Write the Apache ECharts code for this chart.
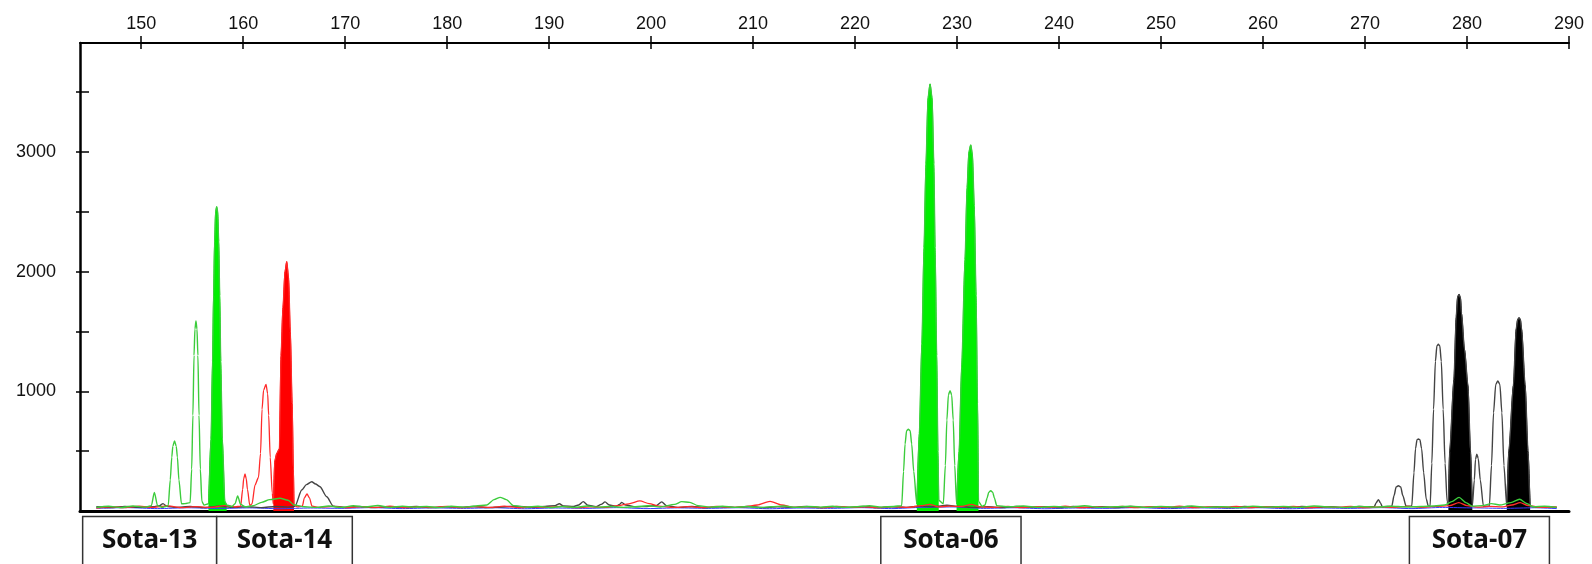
<!DOCTYPE html>
<html>
<head>
<meta charset="utf-8">
<script src="https://cdn.jsdelivr.net/npm/echarts@6/dist/echarts.min.js"></script>
<style>
    html, body { margin: 0; padding: 0; background: #fff; }
    #main { width: 1592px; height: 564px; }
</style>
</head>
<body>
<div id="main"></div>
<script>
// size axis (bp) and signal axis (RFU)
var xTicks = [150, 160, 170, 180, 190, 200, 210, 220, 230, 240, 250, 260, 270, 280, 290];
var yLabels = [1000, 2000, 3000];
var yTicks = [500, 1000, 1500, 2000, 2500, 3000, 3500];

// loci boxes under the trace
var lociNames = ['Sota-13', 'Sota-14', 'Sota-06', 'Sota-07'];
var lociStart = [144.26, 157.40, 222.52, 274.35];
var lociEnd = [157.40, 170.70, 236.27, 288.08];

// traces, [bp, rfu]
var greenTrace = [
    [145.6, 30], [146.8, 40], [148, 28], [149.2, 42], [150.4, 32], [151.0, 45], [151.29, 156], [151.6, 45], [152.1, 30], [152.4, 38],
    [152.65, 45], [152.85, 260], [153.0, 450], [153.1, 540], [153.27, 585], [153.44, 540], [153.55, 450], [153.7, 260], [153.95, 60], [154.3, 62],
    [154.8, 70], [154.95, 350], [155.07, 800], [155.18, 1300], [155.27, 1520], [155.37, 1587], [155.47, 1520], [155.56, 1300], [155.67, 800], [155.8, 350], [155.95, 80], [156.16, 50],
    [156.6, 60], [156.85, 600], [157.0, 1250], [157.1, 1800], [157.2, 2250], [157.3, 2500], [157.4, 2542], [157.5, 2500], [157.6, 2250], [157.7, 1800], [157.8, 1250], [157.95, 600], [158.2, 80], [158.38, 50],
    [158.9, 38], [159.2, 60], [159.46, 125], [159.75, 55], [160.2, 35], [161, 45], [161.8, 72], [162.6, 95], [163.6, 106], [164.4, 90], [165, 50],
    [166, 35], [167.2, 30], [168.4, 42], [169.6, 30], [170.8, 44], [172, 33], [173.2, 46], [174.4, 30], [175.6, 40], [176.8, 32], [178, 38],
    [179.2, 28], [180.4, 40], [181.6, 32], [182.8, 42], [183.9, 50], [184.6, 95], [185.2, 114], [185.8, 95], [186.5, 45], [187.7, 32],
    [188.9, 40], [190.1, 28], [191.3, 38], [192.5, 30], [193.7, 42], [194.9, 32], [196.1, 38], [197.3, 30], [198.5, 36], [199.7, 44],
    [200.9, 34], [202.3, 55], [203, 78], [203.8, 72], [204.6, 45], [205.8, 32], [207, 40], [208.2, 30], [209.4, 38], [210.6, 28],
    [211.8, 36], [213, 42], [214.2, 30], [215.4, 38], [216.6, 32], [217.8, 40], [219, 30], [220.2, 36], [221.4, 44], [222.6, 32], [223.8, 38],
    [224.57, 45], [224.75, 330], [224.9, 560], [225.05, 670], [225.22, 683], [225.4, 670], [225.55, 560], [225.75, 330], [226.05, 60],
    [226.3, 650], [226.55, 1400], [226.76, 2200], [226.95, 2900], [227.15, 3450], [227.35, 3567], [227.55, 3450], [227.72, 2900], [227.84, 2200], [228.0, 1300], [228.12, 500], [228.2, 90],
    [228.65, 60], [228.85, 380], [229.0, 760], [229.15, 970], [229.31, 1005], [229.47, 970], [229.62, 760], [229.77, 380], [229.95, 60],
    [230.2, 500], [230.45, 1200], [230.78, 2100], [230.98, 2700], [231.16, 3000], [231.34, 3058], [231.5, 2980], [231.68, 2550], [231.86, 1800], [232.0, 900], [232.1, 80],
    [232.45, 40], [232.74, 50], [232.95, 110], [233.1, 155], [233.3, 170], [233.5, 155], [233.65, 110], [233.89, 45], [235, 35], [236.5, 42], [238, 30], [239.5, 38],
    [241, 32], [242.5, 44], [244, 30], [245.5, 36], [247, 40], [248.5, 30], [250, 38], [251.5, 32], [253, 42], [254.5, 30], [256, 36],
    [257.5, 28], [259, 40], [260.5, 32], [262, 38], [263.5, 30], [265, 42], [266.5, 34], [268, 30], [269.5, 38], [271, 32], [272.5, 40],
    [274, 34], [275.5, 38], [276.8, 42], [277.8, 50], [278.5, 78], [279.22, 114], [279.9, 70], [280.5, 40], [281.5, 45], [282.4, 62],
    [283.2, 50], [284.3, 70], [285.15, 98], [285.9, 60], [286.5, 35], [287.6, 40], [288.8, 30]
];

var redTrace = [
    [145.6, 25], [147, 35], [148.4, 28], [149.8, 40], [151.2, 30], [152.6, 42], [154, 28], [155.4, 36], [156.8, 30], [158.2, 45], [159.2, 35],
    [159.75, 40], [159.95, 180], [160.05, 270], [160.18, 309], [160.3, 270], [160.42, 180], [160.65, 45],
    [160.87, 60], [161.16, 217], [161.5, 280], [161.7, 480], [161.85, 850], [162.0, 1010], [162.24, 1058], [162.4, 980], [162.5, 800], [162.65, 450], [162.85, 150],
    [162.96, 60], [163.1, 420], [163.3, 483], [163.55, 520], [163.71, 1300], [163.9, 1700], [164.1, 2000], [164.27, 2083], [164.45, 1950], [164.62, 1500], [164.8, 900], [164.92, 350], [164.98, 50],
    [165.3, 35], [165.8, 40], [166.0, 110], [166.26, 142], [166.5, 110], [166.75, 40], [167.5, 30], [168.8, 38], [170.2, 28], [171.6, 36],
    [173, 30], [174.4, 40], [175.8, 28], [177.2, 35], [178.6, 30], [180, 38], [181.4, 28], [182.8, 36], [184.2, 30], [185.6, 40], [187, 28],
    [188.4, 35], [189.8, 30], [191.2, 38], [192.6, 28], [194, 34], [195.4, 30], [196.8, 45], [197.8, 60], [198.9, 84], [199.8, 62],
    [200.8, 40], [202.2, 30], [203.6, 36], [205, 28], [206.4, 38], [207.8, 30], [209.2, 36], [210.4, 50], [211.66, 80], [212.8, 50],
    [214, 30], [215.4, 36], [216.8, 28], [218.2, 38], [219.6, 30], [221, 35], [222.4, 28], [223.8, 36], [225.2, 30], [226.5, 45],
    [227.3, 55], [228.2, 35], [229.2, 40], [230.5, 38], [231.4, 55], [232.2, 35], [233.6, 30], [235, 38], [236.4, 28], [237.8, 36],
    [239.2, 30], [240.6, 40], [242, 28], [243.4, 35], [244.8, 30], [246.2, 38], [247.6, 28], [249, 36], [250.4, 30], [251.8, 40],
    [253.2, 28], [254.6, 35], [256, 30], [257.4, 38], [258.8, 28], [260.2, 36], [261.6, 30], [263, 38], [264.4, 28], [265.8, 35],
    [267.2, 30], [268.6, 38], [270, 28], [271.4, 35], [272.8, 30], [274.2, 38], [275.6, 30], [277, 38], [278.3, 45], [279.2, 70],
    [280, 45], [281, 32], [282.2, 38], [283.5, 35], [284.4, 50], [285.2, 70], [286, 45], [287.2, 30], [288.8, 35]
];

var blackTrace = [
    [145.6, 35], [147, 28], [148.4, 38], [149.8, 30], [151.2, 36], [151.8, 45], [152.14, 62], [152.5, 40], [153.4, 30], [154.8, 38],
    [156.2, 28], [157.6, 40], [159, 30], [160.4, 36], [161.8, 28], [163.2, 38], [164.4, 32],
    [165.08, 40], [165.74, 175], [166.2, 220], [166.72, 245], [167.1, 225], [167.53, 203], [168.19, 119], [168.84, 40],
    [170, 30], [171.4, 38], [172.8, 28], [174.2, 36], [175.6, 30], [177, 38], [178.4, 28], [179.8, 35], [181.2, 30], [182.6, 38],
    [184, 28], [185.4, 34], [186.8, 40], [188.2, 30], [189.6, 38], [190.6, 45], [191, 60], [191.4, 42], [192.4, 38], [192.9, 50],
    [193.35, 78], [193.8, 48], [194.6, 36], [195.1, 55], [195.48, 76], [195.9, 50], [196.6, 40], [196.9, 55], [197.12, 72], [197.5, 50],
    [198.5, 35], [199.6, 38], [200.5, 45], [201.04, 76], [201.5, 45], [202.6, 30], [204, 38], [205.4, 28], [206.8, 36], [208.2, 30],
    [209.6, 38], [211, 28], [212.4, 35], [213.8, 30], [215.2, 38], [216.6, 28], [218, 36], [219.4, 30], [220.8, 38], [222.2, 28],
    [223.6, 36], [225, 30], [226.4, 40], [227.8, 35], [229, 48], [230.2, 38], [231.6, 30], [233, 36], [234.4, 28], [235.8, 38],
    [237.2, 30], [238.6, 36], [240, 28], [241.4, 38], [242.8, 30], [244.2, 36], [245.6, 28], [247, 38], [248.4, 30], [249.8, 36],
    [251.2, 28], [252.6, 38], [254, 30], [255.4, 35], [256.8, 28], [258.2, 38], [259.6, 30], [261, 36], [262.4, 28], [263.8, 38],
    [265.2, 30], [266.6, 36], [268, 28], [269.4, 38], [270.4, 35],
    [270.9, 35], [271.1, 70], [271.31, 95], [271.5, 70], [271.7, 35], [272.2, 38],
    [272.62, 40], [272.85, 130], [273.05, 200], [273.27, 211], [273.5, 200], [273.7, 130], [274.03, 40],
    [274.58, 40], [274.8, 320], [274.95, 520], [275.1, 595], [275.23, 601], [275.38, 595], [275.55, 520], [275.75, 320], [276.0, 100], [276.21, 40],
    [276.38, 40], [276.55, 400], [276.72, 850], [276.9, 1250], [277.05, 1380], [277.19, 1393], [277.33, 1380], [277.48, 1250], [277.66, 850], [277.85, 400], [278.05, 80],
    [278.17, 40], [278.3, 500], [278.72, 1100], [278.94, 1620], [279.08, 1790], [279.22, 1810], [279.36, 1780], [279.46, 1650], [279.75, 1350], [280.09, 1050], [280.34, 500], [280.52, 40],
    [280.72, 260], [280.83, 430], [280.96, 474], [281.1, 440], [281.3, 260], [281.61, 40],
    [282.19, 40], [282.4, 380], [282.6, 820], [282.82, 1060], [283.02, 1086], [283.22, 1060], [283.42, 820], [283.62, 380], [283.9, 40],
    [284.1, 500], [284.55, 1050], [284.82, 1520], [284.97, 1600], [285.1, 1615], [285.23, 1600], [285.35, 1520], [285.7, 1050], [285.98, 500], [286.19, 40],
    [287, 30], [288, 36], [288.8, 30]
];

var blueTrace = [
    [145.6, 22], [148.6, 28], [151.6, 20], [154.6, 27], [157.6, 21], [160.6, 26], [163.6, 19], [166.6, 25], [169.6, 22], [172.6, 28],
    [175.6, 20], [178.6, 26], [181.6, 22], [184.6, 27], [187.6, 19], [190.6, 25], [193.6, 22], [196.6, 28], [199.6, 20], [202.6, 26],
    [205.6, 22], [208.6, 27], [211.6, 19], [214.6, 25], [217.6, 22], [220.6, 28], [223.6, 20], [226.6, 30], [229.6, 34], [232.6, 22],
    [235.6, 27], [238.6, 19], [241.6, 25], [244.6, 22], [247.6, 28], [250.6, 20], [253.6, 26], [256.6, 22], [259.6, 27], [262.6, 19],
    [265.6, 25], [268.6, 22], [271.6, 28], [274.6, 20], [277.6, 30], [280.6, 26], [283.6, 22], [286.6, 27], [288.8, 20]
];

// called allele peaks (filled), bp ranges
var greenFilled = [[156.6, 158.38], [226.05, 228.2], [229.95, 232.1]];
var redFilled = [[162.96, 164.98]];
var blackFilled = [[278.17, 280.52], [283.9, 286.19]];

// keep only the points inside the filled ranges, break the line elsewhere
function fillData(trace, ranges) {
    var out = [];
    trace.forEach(function (p) {
        var inside = ranges.some(function (r) { return p[0] >= r[0] && p[0] <= r[1]; });
        out.push(inside ? p : [p[0], '-']);
    });
    return out;
}

function lineSeries(data, color, width) {
    return {
        type: 'line', data: data, showSymbol: false, silent: true,
        smooth: 0.25, smoothMonotone: 'x',
        lineStyle: {color: color, width: width}
    };
}

function fillSeries(data, color) {
    return {
        type: 'line', data: data, showSymbol: false, silent: true, connectNulls: false,
        smooth: 0.25, smoothMonotone: 'x',
        lineStyle: {color: color, width: 1},
        areaStyle: {color: color, opacity: 1}
    };
}

function plainLabel(v) {
    return String(v);
}

var chart = echarts.init(document.getElementById('main'));

chart.setOption({
    animation: false,
    backgroundColor: '#fff',
    // second grid on the same spot only carries the inner halves of the ticks
    grid: [
        {left: 80, right: 23, top: 43, bottom: 53},
        {left: 80, right: 23, top: 43, bottom: 53}
    ],
    xAxis: [
        {
            type: 'value', gridIndex: 0, position: 'top', min: 144, max: 290,
            axisLine: {onZero: false, lineStyle: {color: '#000', width: 2}},
            axisTick: {customValues: xTicks, length: 7, lineStyle: {color: '#000', width: 1.5}},
            axisLabel: {
                customValues: xTicks, margin: 10, formatter: plainLabel,
                fontFamily: 'Liberation Sans', fontSize: 18, color: '#111'
            },
            splitLine: {show: false}
        },
        {
            type: 'value', gridIndex: 0, position: 'bottom', min: 144, max: 290,
            axisLine: {onZero: false, lineStyle: {color: '#000', width: 3}},
            axisTick: {show: false}, axisLabel: {show: false}, splitLine: {show: false}
        },
        {
            type: 'value', gridIndex: 1, position: 'top', min: 144, max: 290,
            axisLine: {show: false, onZero: false},
            axisTick: {customValues: xTicks, inside: true, length: 6, lineStyle: {color: '#000', width: 1.5}},
            axisLabel: {show: false},
            splitLine: {show: false}
        }
    ],
    yAxis: [
        {
            type: 'value', gridIndex: 0, position: 'left', min: 0, max: 3910,
            axisLine: {show: true, onZero: false, lineStyle: {color: '#000', width: 2.5}},
            axisTick: {customValues: yTicks, length: 4, lineStyle: {color: '#000', width: 1.5}},
            axisLabel: {
                customValues: yLabels, margin: 24, formatter: plainLabel,
                fontFamily: 'Liberation Sans', fontSize: 18, color: '#111'
            },
            splitLine: {show: false}
        },
        {
            type: 'value', gridIndex: 1, position: 'left', min: 0, max: 3910,
            axisLine: {show: false, onZero: false},
            axisTick: {customValues: yTicks, inside: true, length: 9, lineStyle: {color: '#000', width: 1.5}},
            axisLabel: {show: false},
            splitLine: {show: false}
        }
    ],
    series: [
        fillSeries(fillData(blackTrace, blackFilled), '#000000'),
        fillSeries(fillData(greenTrace, greenFilled), '#00ee00'),
        fillSeries(fillData(redTrace, redFilled), '#ff0000'),
        lineSeries(blueTrace, '#3a3aff', 1),
        lineSeries(blackTrace, '#444444', 1.4),
        lineSeries(redTrace, '#ff2a2a', 1.3),
        lineSeries(greenTrace, '#3ccc3c', 1.4)
    ]
});

// loci boxes, positioned through the x axis scale
var graphics = [];
lociNames.forEach(function (name, i) {
    var x0 = chart.convertToPixel({xAxisIndex: 0}, lociStart[i]);
    var x1 = chart.convertToPixel({xAxisIndex: 0}, lociEnd[i]);
    graphics.push({
        type: 'rect', silent: true,
        shape: {x: x0, y: 516.5, width: x1 - x0, height: 60},
        style: {fill: '#fff', stroke: '#333', lineWidth: 1.5}
    });
    graphics.push({
        type: 'text', silent: true,
        x: (x0 + x1) / 2, y: 541,
        style: {
            text: name, fill: '#111', align: 'center', verticalAlign: 'middle',
            font: 'bold 26px "Open Sans", "Noto Sans", sans-serif'
        }
    });
});
chart.setOption({graphic: graphics});
</script>
</body>
</html>
